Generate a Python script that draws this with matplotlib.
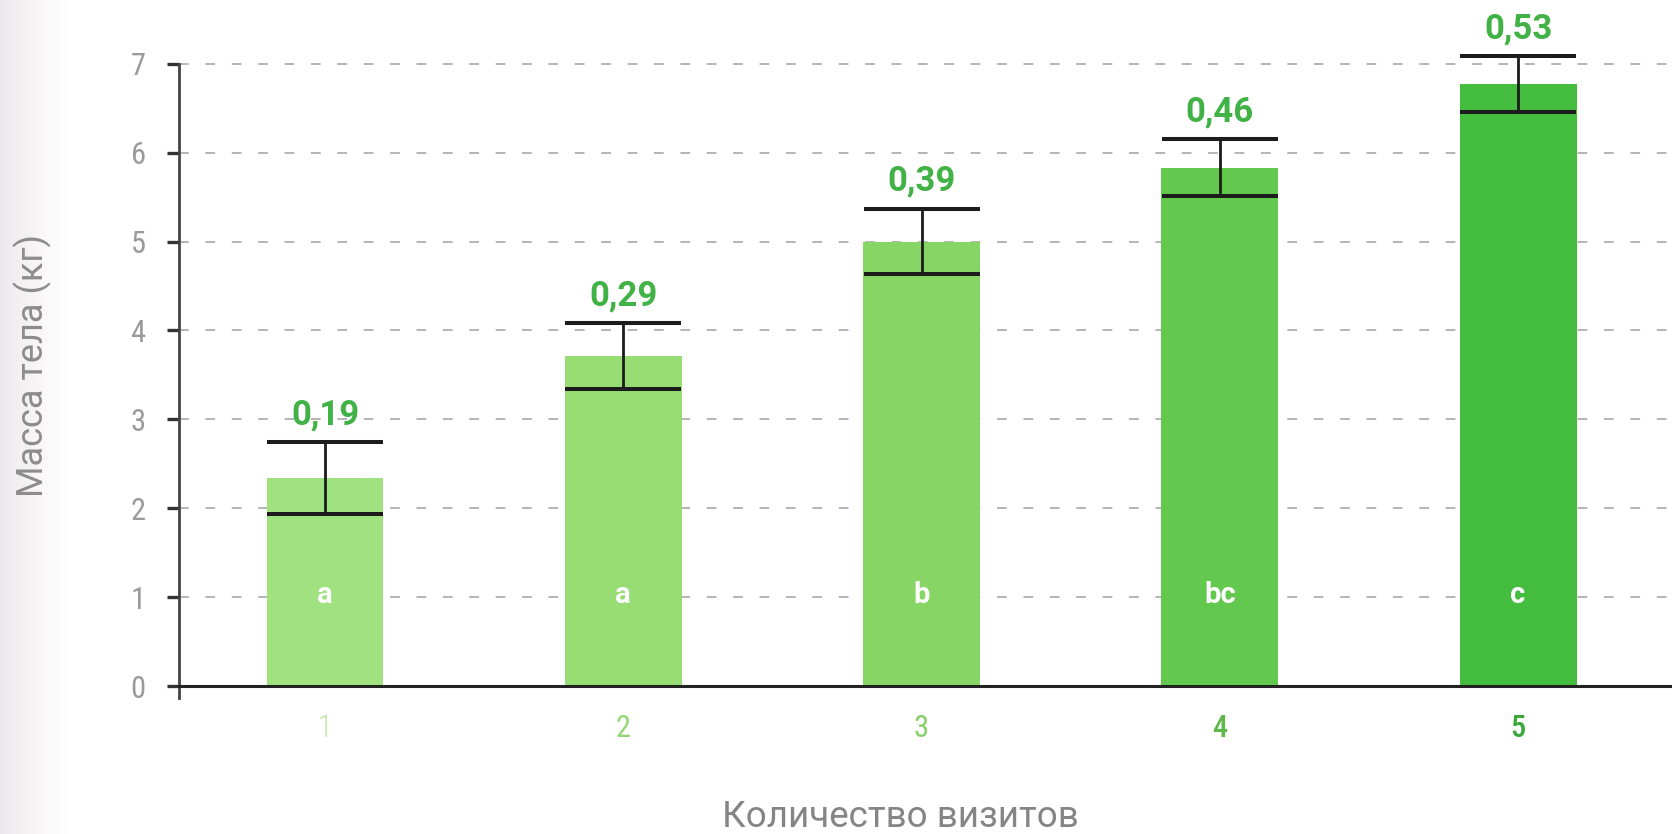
import matplotlib
matplotlib.use("Agg")
import matplotlib.pyplot as plt
from matplotlib import font_manager
import numpy as np

# ---- data ----
visits = [1, 2, 3, 4, 5]
mass_mean = [2.34, 3.71, 5.00, 5.83, 6.77]
mass_err = [0.40, 0.37, 0.37, 0.32, 0.315]
err_labels = ["0,19", "0,29", "0,39", "0,46", "0,53"]
group_letters = ["a", "a", "b", "bc", "c"]
yticks = [0, 1, 2, 3, 4, 5, 6, 7]

bar_colors = ["#a0e27f", "#97dd74", "#86d565", "#62c84e", "#44bd3f"]
xtick_colors = ["#bfe8a2", "#93d874", "#86d066", "#5cb848", "#3aa83a"]
xtick_weights = ["light", "normal", "normal", "medium", "medium"]
label_green = "#41b245"
gray = "#8c8c8c"

installed = {f.name for f in font_manager.fontManager.ttflist}


def pick(*names):
    for n in names:
        if n in installed:
            return n
    return "DejaVu Sans"


text_font = pick("Roboto", "Liberation Sans")
cond_font = pick("Roboto Condensed", "Liberation Sans Narrow", "Roboto")
bold_font = pick("Roboto", "Liberation Sans")
plt.rcParams["lines.scale_dashes"] = False

W, H = 1672, 834
fig = plt.figure(figsize=(W / 100, H / 100), dpi=100)
fig.patch.set_facecolor("white")

# faint scan shading on the left edge
shade = fig.add_axes([0, 0, 70 / W, 1])
grad = np.linspace(0, 1, 70) ** 0.8
rgb = np.array([0.93, 0.905, 0.92])[None, :] * (1 - grad[:, None]) + grad[:, None]
shade.imshow(rgb[None, :, :], aspect="auto", extent=(0, 1, 0, 1))
shade.axis("off")

ax = fig.add_axes([179 / W, 0.16355, 1 - 179 / W, 0.8293])
ax.set_xlim(0.5106, 5.516)
ax.set_ylim(-0.13, 7.65)
ax.set_axisbelow(True)

ax.bar(visits, mass_mean, width=0.392, color=bar_colors, zorder=2)
ax.errorbar(visits, mass_mean, yerr=mass_err, fmt="none", ecolor="#1c1c1c",
            elinewidth=2.0, capsize=42, capthick=2.9, zorder=3)

for x, m, e, lab, let in zip(visits, mass_mean, mass_err, err_labels, group_letters):
    ax.annotate(lab, xy=(x, m + e), xytext=(0, 13), textcoords="offset points",
                ha="center", va="baseline", fontsize=25, fontweight="bold",
                color=label_green, family=bold_font)
    ax.text(x, 0.93, let, ha="center", va="baseline", fontsize=21,
            fontweight="bold", color="white", family=bold_font, zorder=4)

# grid and axes
ax.set_yticks(yticks)
ax.yaxis.grid(True, color="#a8a8a8", linewidth=1.2, linestyle=(0, (7, 12)))
for sp in ["top", "right"]:
    ax.spines[sp].set_visible(False)
ax.spines["bottom"].set_position(("data", 0))
ax.spines["bottom"].set_linewidth(2.2)
ax.spines["bottom"].set_color("#222222")
ax.spines["left"].set_bounds(-0.13, 7)
ax.spines["left"].set_linewidth(2.0)
ax.spines["left"].set_color("#444444")

ax.tick_params(axis="y", length=9, width=2.4, color="#333333", pad=15,
               labelsize=22, labelcolor="#9a9a9a")
for t in ax.get_yticklabels():
    t.set_family(cond_font)

ax.set_xticks(visits)
ax.set_xticklabels([str(v) for v in visits])
ax.tick_params(axis="x", length=0, pad=20, labelsize=22)
for t, c, w in zip(ax.get_xticklabels(), xtick_colors, xtick_weights):
    t.set_color(c)
    t.set_family(cond_font)
    t.set_fontweight(w)

fig.text(33 / W, 1 - 365 / H, "Масса тела (кг)", rotation=90, ha="center",
         va="center", fontsize=26, color=gray, family=text_font)
fig.text(900 / W, 7 / H, "Количество визитов", ha="center", va="baseline",
         fontsize=26.5, color="#858585", family=text_font)

fig.savefig("out.png", dpi=100)
